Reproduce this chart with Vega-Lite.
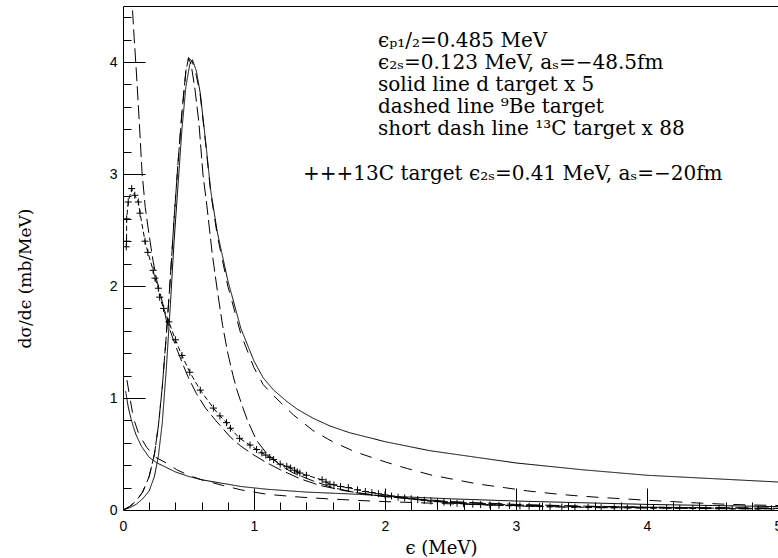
{
  "$schema": "https://vega.github.io/schema/vega-lite/v6.json",
  "width": 655,
  "height": 504,
  "autosize": {"type": "none"},
  "padding": {"left": 123, "top": 6, "right": 0, "bottom": 48},
  "background": "white",
  "config": {
    "view": {"stroke": "black", "strokeWidth": 1},
    "axis": {"grid": false, "domain": false, "tickColor": "black", "labelColor": "black", "titleColor": "black", "tickWidth": 1}
  },
  "datasets": {
    "curves": [
      {"c":"A","s":"solid","x":0,"y":0},{"c":"A","s":"solid","x":0.05,"y":0.02},{"c":"A","s":"solid","x":0.1,"y":0.05},{"c":"A","s":"solid","x":0.15,"y":0.1},{"c":"A","s":"solid","x":0.2,"y":0.17},{"c":"A","s":"solid","x":0.24,"y":0.3},{"c":"A","s":"solid","x":0.27,"y":0.48},{"c":"A","s":"solid","x":0.3,"y":0.78},{"c":"A","s":"solid","x":0.33,"y":1.25},{"c":"A","s":"solid","x":0.36,"y":1.8},{"c":"A","s":"solid","x":0.39,"y":2.4},{"c":"A","s":"solid","x":0.42,"y":2.9},{"c":"A","s":"solid","x":0.45,"y":3.4},{"c":"A","s":"solid","x":0.48,"y":3.78},{"c":"A","s":"solid","x":0.51,"y":3.98},{"c":"A","s":"solid","x":0.53,"y":4.02},{"c":"A","s":"solid","x":0.56,"y":3.92},{"c":"A","s":"solid","x":0.59,"y":3.72},{"c":"A","s":"solid","x":0.63,"y":3.3},{"c":"A","s":"solid","x":0.67,"y":2.85},{"c":"A","s":"solid","x":0.72,"y":2.48},{"c":"A","s":"solid","x":0.8,"y":2.05},{"c":"A","s":"solid","x":0.9,"y":1.62},{"c":"A","s":"solid","x":1.0,"y":1.33},{"c":"A","s":"solid","x":1.07,"y":1.18},{"c":"A","s":"solid","x":1.15,"y":1.07},{"c":"A","s":"solid","x":1.25,"y":0.97},{"c":"A","s":"solid","x":1.33,"y":0.9},{"c":"A","s":"solid","x":1.45,"y":0.82},{"c":"A","s":"solid","x":1.58,"y":0.75},{"c":"A","s":"solid","x":1.73,"y":0.69},{"c":"A","s":"solid","x":1.9,"y":0.64},{"c":"A","s":"solid","x":2.0,"y":0.61},{"c":"A","s":"solid","x":2.34,"y":0.53},{"c":"A","s":"solid","x":2.7,"y":0.47},{"c":"A","s":"solid","x":3.0,"y":0.42},{"c":"A","s":"solid","x":3.5,"y":0.36},{"c":"A","s":"solid","x":4.0,"y":0.31},{"c":"A","s":"solid","x":4.5,"y":0.28},{"c":"A","s":"solid","x":5.0,"y":0.25},

      {"c":"B","s":"long","x":0,"y":0},{"c":"B","s":"long","x":0.05,"y":0.03},{"c":"B","s":"long","x":0.1,"y":0.08},{"c":"B","s":"long","x":0.15,"y":0.16},{"c":"B","s":"long","x":0.2,"y":0.3},{"c":"B","s":"long","x":0.24,"y":0.5},{"c":"B","s":"long","x":0.27,"y":0.75},{"c":"B","s":"long","x":0.3,"y":1.1},{"c":"B","s":"long","x":0.33,"y":1.55},{"c":"B","s":"long","x":0.36,"y":2.05},{"c":"B","s":"long","x":0.39,"y":2.6},{"c":"B","s":"long","x":0.42,"y":3.1},{"c":"B","s":"long","x":0.45,"y":3.55},{"c":"B","s":"long","x":0.48,"y":3.92},{"c":"B","s":"long","x":0.5,"y":4.04},{"c":"B","s":"long","x":0.53,"y":4.0},{"c":"B","s":"long","x":0.56,"y":3.88},{"c":"B","s":"long","x":0.59,"y":3.7},{"c":"B","s":"long","x":0.63,"y":3.28},{"c":"B","s":"long","x":0.67,"y":2.83},{"c":"B","s":"long","x":0.72,"y":2.45},{"c":"B","s":"long","x":0.8,"y":2.0},{"c":"B","s":"long","x":0.9,"y":1.57},{"c":"B","s":"long","x":1.0,"y":1.27},{"c":"B","s":"long","x":1.07,"y":1.12},{"c":"B","s":"long","x":1.15,"y":1.02},{"c":"B","s":"long","x":1.3,"y":0.85},{"c":"B","s":"long","x":1.45,"y":0.71},{"c":"B","s":"long","x":1.6,"y":0.61},{"c":"B","s":"long","x":1.77,"y":0.52},{"c":"B","s":"long","x":2.0,"y":0.43},{"c":"B","s":"long","x":2.17,"y":0.37},{"c":"B","s":"long","x":2.36,"y":0.31},{"c":"B","s":"long","x":2.54,"y":0.27},{"c":"B","s":"long","x":2.72,"y":0.23},{"c":"B","s":"long","x":2.91,"y":0.2},{"c":"B","s":"long","x":3.09,"y":0.17},{"c":"B","s":"long","x":3.29,"y":0.145},{"c":"B","s":"long","x":3.45,"y":0.128},{"c":"B","s":"long","x":3.63,"y":0.113},{"c":"B","s":"long","x":3.82,"y":0.1},{"c":"B","s":"long","x":4.0,"y":0.087},{"c":"B","s":"long","x":4.19,"y":0.075},{"c":"B","s":"long","x":4.38,"y":0.063},{"c":"B","s":"long","x":4.57,"y":0.053},{"c":"B","s":"long","x":4.76,"y":0.046},{"c":"B","s":"long","x":5.0,"y":0.04},

      {"c":"C","s":"med","x":0,"y":0},{"c":"C","s":"med","x":0.05,"y":0.03},{"c":"C","s":"med","x":0.1,"y":0.08},{"c":"C","s":"med","x":0.15,"y":0.16},{"c":"C","s":"med","x":0.2,"y":0.3},{"c":"C","s":"med","x":0.24,"y":0.5},{"c":"C","s":"med","x":0.27,"y":0.75},{"c":"C","s":"med","x":0.3,"y":1.1},{"c":"C","s":"med","x":0.33,"y":1.55},{"c":"C","s":"med","x":0.36,"y":2.05},{"c":"C","s":"med","x":0.39,"y":2.6},{"c":"C","s":"med","x":0.42,"y":3.1},{"c":"C","s":"med","x":0.45,"y":3.55},{"c":"C","s":"med","x":0.48,"y":3.92},{"c":"C","s":"med","x":0.5,"y":4.03},{"c":"C","s":"med","x":0.52,"y":3.98},{"c":"C","s":"med","x":0.55,"y":3.75},{"c":"C","s":"med","x":0.58,"y":3.45},{"c":"C","s":"med","x":0.61,"y":3.0},{"c":"C","s":"med","x":0.64,"y":2.72},{"c":"C","s":"med","x":0.68,"y":2.3},{"c":"C","s":"med","x":0.72,"y":1.96},{"c":"C","s":"med","x":0.76,"y":1.65},{"c":"C","s":"med","x":0.8,"y":1.4},{"c":"C","s":"med","x":0.84,"y":1.2},{"c":"C","s":"med","x":0.87,"y":1.07},{"c":"C","s":"med","x":0.91,"y":0.93},{"c":"C","s":"med","x":0.95,"y":0.8},{"c":"C","s":"med","x":1.02,"y":0.62},{"c":"C","s":"med","x":1.1,"y":0.5},{"c":"C","s":"med","x":1.2,"y":0.4},{"c":"C","s":"med","x":1.3,"y":0.33},{"c":"C","s":"med","x":1.45,"y":0.26},{"c":"C","s":"med","x":1.6,"y":0.2},{"c":"C","s":"med","x":1.8,"y":0.15},{"c":"C","s":"med","x":2.0,"y":0.12},{"c":"C","s":"med","x":2.5,"y":0.075},{"c":"C","s":"med","x":3.0,"y":0.05},{"c":"C","s":"med","x":3.5,"y":0.035},{"c":"C","s":"med","x":4.0,"y":0.025},{"c":"C","s":"med","x":4.5,"y":0.02},{"c":"C","s":"med","x":5.0,"y":0.015},

      {"c":"D","s":"solid","x":0.02,"y":1.06},{"c":"D","s":"solid","x":0.04,"y":0.92},{"c":"D","s":"solid","x":0.06,"y":0.82},{"c":"D","s":"solid","x":0.08,"y":0.74},{"c":"D","s":"solid","x":0.1,"y":0.67},{"c":"D","s":"solid","x":0.14,"y":0.57},{"c":"D","s":"solid","x":0.2,"y":0.47},{"c":"D","s":"solid","x":0.26,"y":0.42},{"c":"D","s":"solid","x":0.33,"y":0.38},{"c":"D","s":"solid","x":0.4,"y":0.34},{"c":"D","s":"solid","x":0.5,"y":0.3},{"c":"D","s":"solid","x":0.6,"y":0.27},{"c":"D","s":"solid","x":0.75,"y":0.24},{"c":"D","s":"solid","x":0.9,"y":0.21},{"c":"D","s":"solid","x":1.1,"y":0.185},{"c":"D","s":"solid","x":1.4,"y":0.16},{"c":"D","s":"solid","x":1.8,"y":0.14},{"c":"D","s":"solid","x":2.0,"y":0.125},{"c":"D","s":"solid","x":2.5,"y":0.1},{"c":"D","s":"solid","x":3.0,"y":0.08},{"c":"D","s":"solid","x":3.5,"y":0.065},{"c":"D","s":"solid","x":4.0,"y":0.05},{"c":"D","s":"solid","x":4.5,"y":0.04},{"c":"D","s":"solid","x":5.0,"y":0.03},

      {"c":"E","s":"long","x":0.03,"y":1.16},{"c":"E","s":"long","x":0.05,"y":1.02},{"c":"E","s":"long","x":0.08,"y":0.82},{"c":"E","s":"long","x":0.12,"y":0.68},{"c":"E","s":"long","x":0.18,"y":0.56},{"c":"E","s":"long","x":0.25,"y":0.47},{"c":"E","s":"long","x":0.33,"y":0.42},{"c":"E","s":"long","x":0.41,"y":0.36},{"c":"E","s":"long","x":0.5,"y":0.31},{"c":"E","s":"long","x":0.6,"y":0.27},{"c":"E","s":"long","x":0.76,"y":0.22},{"c":"E","s":"long","x":0.9,"y":0.18},{"c":"E","s":"long","x":1.1,"y":0.14},{"c":"E","s":"long","x":1.35,"y":0.115},{"c":"E","s":"long","x":1.56,"y":0.1},{"c":"E","s":"long","x":1.8,"y":0.085},{"c":"E","s":"long","x":2.0,"y":0.075},{"c":"E","s":"long","x":2.5,"y":0.055},{"c":"E","s":"long","x":3.0,"y":0.04},{"c":"E","s":"long","x":3.5,"y":0.032},{"c":"E","s":"long","x":4.0,"y":0.025},{"c":"E","s":"long","x":4.5,"y":0.02},{"c":"E","s":"long","x":5.0,"y":0.017},

      {"c":"F","s":"med","x":0.06,"y":4.8},{"c":"F","s":"med","x":0.071,"y":4.5},{"c":"F","s":"med","x":0.085,"y":4.22},{"c":"F","s":"med","x":0.1,"y":3.95},{"c":"F","s":"med","x":0.125,"y":3.45},{"c":"F","s":"med","x":0.145,"y":3.02},{"c":"F","s":"med","x":0.17,"y":2.7},{"c":"F","s":"med","x":0.2,"y":2.45},{"c":"F","s":"med","x":0.23,"y":2.22},{"c":"F","s":"med","x":0.26,"y":2.04},{"c":"F","s":"med","x":0.3,"y":1.86},{"c":"F","s":"med","x":0.33,"y":1.7},{"c":"F","s":"med","x":0.4,"y":1.47},{"c":"F","s":"med","x":0.45,"y":1.32},{"c":"F","s":"med","x":0.5,"y":1.18},{"c":"F","s":"med","x":0.56,"y":1.04},{"c":"F","s":"med","x":0.63,"y":0.91},{"c":"F","s":"med","x":0.7,"y":0.81},{"c":"F","s":"med","x":0.82,"y":0.65},{"c":"F","s":"med","x":0.9,"y":0.57},{"c":"F","s":"med","x":1.0,"y":0.49},{"c":"F","s":"med","x":1.1,"y":0.42},{"c":"F","s":"med","x":1.2,"y":0.36},{"c":"F","s":"med","x":1.35,"y":0.28},{"c":"F","s":"med","x":1.5,"y":0.22},{"c":"F","s":"med","x":1.7,"y":0.17},{"c":"F","s":"med","x":2.0,"y":0.12},{"c":"F","s":"med","x":2.5,"y":0.07},{"c":"F","s":"med","x":3.0,"y":0.045},{"c":"F","s":"med","x":3.5,"y":0.03},{"c":"F","s":"med","x":4.0,"y":0.022},{"c":"F","s":"med","x":4.5,"y":0.017},{"c":"F","s":"med","x":5.0,"y":0.013}
    ],
    "plus": [
      {"x":0.025,"y":2.35},{"x":0.027,"y":2.4},{"x":0.028,"y":2.6},{"x":0.04,"y":2.75},{"x":0.066,"y":2.87},{"x":0.09,"y":2.81},{"x":0.117,"y":2.75},{"x":0.13,"y":2.65},{"x":0.168,"y":2.4},{"x":0.19,"y":2.3},{"x":0.23,"y":2.14},{"x":0.244,"y":2.07},{"x":0.27,"y":1.98},{"x":0.28,"y":1.9},{"x":0.31,"y":1.8},{"x":0.35,"y":1.68},{"x":0.4,"y":1.52},{"x":0.45,"y":1.38},{"x":0.51,"y":1.23},{"x":0.59,"y":1.07},{"x":0.69,"y":0.91},{"x":0.74,"y":0.84},{"x":0.79,"y":0.78},{"x":0.82,"y":0.73},{"x":0.89,"y":0.64},{"x":0.97,"y":0.58},{"x":1.02,"y":0.54},{"x":1.06,"y":0.51},{"x":1.09,"y":0.49},{"x":1.12,"y":0.47},{"x":1.15,"y":0.45},{"x":1.2,"y":0.41},{"x":1.25,"y":0.39},{"x":1.28,"y":0.375},{"x":1.31,"y":0.355},{"x":1.33,"y":0.34},{"x":1.35,"y":0.33},{"x":1.4,"y":0.31},{"x":1.52,"y":0.27},{"x":1.55,"y":0.25},{"x":1.58,"y":0.23},{"x":1.61,"y":0.225},{"x":1.66,"y":0.21},{"x":1.72,"y":0.2},{"x":1.79,"y":0.18},{"x":1.85,"y":0.165},{"x":1.9,"y":0.155},{"x":1.95,"y":0.145},{"x":2.0,"y":0.135},{"x":2.05,"y":0.125},{"x":2.1,"y":0.115},{"x":2.15,"y":0.108},{"x":2.2,"y":0.1},{"x":2.25,"y":0.093},{"x":2.3,"y":0.087},{"x":2.35,"y":0.08},{"x":2.4,"y":0.075},{"x":2.45,"y":0.07},{"x":2.5,"y":0.065},{"x":2.55,"y":0.06},{"x":2.6,"y":0.056},{"x":2.67,"y":0.052},{"x":2.73,"y":0.048},{"x":2.8,"y":0.045},{"x":2.87,"y":0.042},{"x":2.95,"y":0.039},{"x":3.03,"y":0.036},{"x":3.1,"y":0.033},{"x":3.18,"y":0.031},{"x":3.26,"y":0.029},{"x":3.35,"y":0.027},{"x":3.45,"y":0.025},{"x":3.55,"y":0.023},{"x":3.65,"y":0.021},{"x":3.75,"y":0.02},{"x":3.85,"y":0.019},{"x":3.95,"y":0.018},{"x":4.05,"y":0.017},{"x":4.15,"y":0.016},{"x":4.25,"y":0.015},{"x":4.35,"y":0.014},{"x":4.45,"y":0.013},{"x":4.55,"y":0.012},{"x":4.65,"y":0.011},{"x":4.75,"y":0.011},{"x":4.85,"y":0.01},{"x":4.95,"y":0.01}
    ],
    "notes": [
      {"x":1.947,"y":4.134,"t":"ϵₚ₁/₂=0.485 MeV"},
      {"x":1.947,"y":3.938,"t":"ϵ₂ₛ=0.123 MeV, aₛ=−48.5fm"},
      {"x":1.947,"y":3.742,"t":"solid line d target x 5"},
      {"x":1.947,"y":3.546,"t":"dashed line ⁹Be target"},
      {"x":1.947,"y":3.348,"t":"short dash line ¹³C target x 88"},
      {"x":1.374,"y":2.946,"t":"+++13C target ϵ₂ₛ=0.41 MeV, aₛ=−20fm"}
    ]
  },
  "resolve": {"axis": {"x": "independent", "y": "independent"}},
  "layer": [
    {
      "data": {"name": "curves"},
      "mark": {"type": "line", "clip": true, "strokeWidth": 1, "color": "black"},
      "encoding": {
        "x": {"field": "x", "type": "quantitative", "scale": {"domain": [0, 5], "nice": false, "zero": false},
              "axis": {"orient": "bottom", "values": [0,1,2,3,4,5], "ticks": false, "labelPadding": 9, "labelFont": "Liberation Sans", "labelFontSize": 14, "labelFlush": false, "title": "ϵ (MeV)", "titleFont": "DejaVu Serif", "titleFontSize": 18, "titleFontWeight": "normal", "titleX": 318, "titleY": 38, "titleBaseline": "middle", "titleAlign": "center"}},
        "y": {"field": "y", "type": "quantitative", "scale": {"domain": [0, 4.5], "nice": false, "zero": false},
              "axis": {"orient": "left", "values": [0,1,2,3,4], "ticks": false, "labelPadding": 6, "labelFont": "Liberation Sans", "labelFontSize": 14, "labelFlush": false, "title": "dσ/dϵ (mb/MeV)", "titleFont": "DejaVu Serif", "titleFontSize": 17, "titleFontWeight": "normal", "titleX": -98, "titleY": 272, "titleBaseline": "middle", "titleAlign": "center", "titleAngle": 270}},
        "detail": {"field": "c"},
        "strokeDash": {"field": "s", "type": "nominal", "scale": {"domain": ["solid", "long", "med"], "range": [[1, 0], [12, 9], [14, 5]]}, "legend": null}
      }
    },
    {
      "data": {"name": "plus"},
      "mark": {"type": "line", "clip": true, "strokeWidth": 1, "color": "black", "strokeDash": [5, 3]},
      "encoding": {
        "x": {"field": "x", "type": "quantitative", "scale": {"domain": [0, 5], "nice": false, "zero": false},
              "axis": {"orient": "bottom", "values": [1,2,3,4], "tickSize": -22, "labels": false, "title": null}},
        "y": {"field": "y", "type": "quantitative", "scale": {"domain": [0, 4.5], "nice": false, "zero": false},
              "axis": {"orient": "left", "values": [1,2,3,4], "tickSize": -22, "labels": false, "title": null}}
      }
    },
    {
      "data": {"name": "plus"},
      "mark": {"type": "point", "clip": true, "shape": "M-1,0L1,0M0,-1L0,1", "size": 49, "filled": false, "strokeWidth": 1, "color": "black", "opacity": 1},
      "encoding": {
        "x": {"field": "x", "type": "quantitative", "scale": {"domain": [0, 5], "nice": false, "zero": false},
              "axis": {"orient": "bottom", "values": [0.2,0.4,0.6,0.8,1.2,1.4,1.6,1.8,2.2,2.4,2.6,2.8,3.2,3.4,3.6,3.8,4.2,4.4,4.6,4.8], "tickSize": -8, "labels": false, "title": null}},
        "y": {"field": "y", "type": "quantitative", "scale": {"domain": [0, 4.5], "nice": false, "zero": false},
              "axis": {"orient": "left", "values": [0.2,0.4,0.6,0.8,1.2,1.4,1.6,1.8,2.2,2.4,2.6,2.8,3.2,3.4,3.6,3.8,4.2,4.4], "tickSize": -8, "labels": false, "title": null}}
      }
    },
    {
      "data": {"name": "notes"},
      "mark": {"type": "text", "align": "left", "baseline": "alphabetic", "font": "DejaVu Serif", "fontSize": 20, "color": "black"},
      "encoding": {
        "x": {"field": "x", "type": "quantitative", "scale": {"domain": [0, 5], "nice": false, "zero": false}, "axis": null},
        "y": {"field": "y", "type": "quantitative", "scale": {"domain": [0, 4.5], "nice": false, "zero": false}, "axis": null},
        "text": {"field": "t"}
      }
    }
  ]
}
